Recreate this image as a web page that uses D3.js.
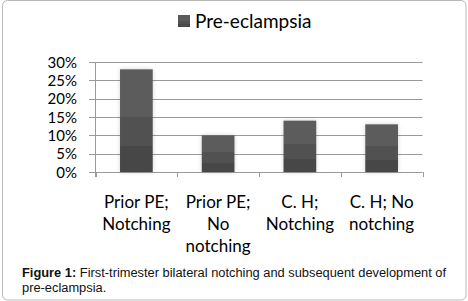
<!DOCTYPE html>
<html>
<head>
<meta charset="utf-8">
<script src="https://cdn.jsdelivr.net/npm/d3@7"></script>
<style>
  body { margin: 0; background: #fff; }
  svg { display: block; }
</style>
</head>
<body>
<div id="chart"></div>
<script>
const categories = ["Prior PE; Notching", "Prior PE; No notching", "C. H; Notching", "C. H; No notching"];
const categoryLines = [["Prior PE;", "Notching"], ["Prior PE;", "No", "notching"], ["C. H;", "Notching"], ["C. H; No", "notching"]];
const values = [0.28, 0.10, 0.14, 0.13];
const yTicks = [0, 0.05, 0.10, 0.15, 0.20, 0.25, 0.30];
const seriesName = "Pre-eclampsia";
const captionBold = "Figure 1:";
const captionLines = [" First-trimester bilateral notching and subsequent development of", "pre-eclampsia."];

const width = 468, height = 301;
const font = "Lato, 'Open Sans', sans-serif";

const svg = d3.select("#chart")
    .append("svg")
    .attr("width", width)
    .attr("height", height);

const defs = svg.append("defs");

// stepped gradient like the Excel bars
const grad = defs.append("linearGradient")
    .attr("id", "barGrad")
    .attr("x1", 0).attr("y1", 0).attr("x2", 0).attr("y2", 1);
[[0, "#5b5b5b"], [0.46, "#5b5b5b"], [0.46, "#515151"], [0.75, "#515151"], [0.75, "#474747"], [1, "#474747"]]
    .forEach(s => grad.append("stop").attr("offset", s[0]).attr("stop-color", s[1]));

const shadow = defs.append("filter")
    .attr("id", "shadow")
    .attr("x", "-30%").attr("y", "-10%").attr("width", "160%").attr("height", "120%");
shadow.append("feDropShadow")
    .attr("dx", 0).attr("dy", 0)
    .attr("stdDeviation", 2)
    .attr("flood-color", "#000")
    .attr("flood-opacity", 0.18);

// outer frame
svg.append("rect")
    .attr("x", 2.5).attr("y", 0.5)
    .attr("width", 463.5).attr("height", 299.5)
    .attr("rx", 5)
    .attr("fill", "none")
    .attr("stroke", "#b8b8b8");

const x = d3.scaleBand()
    .domain(categories)
    .range([95.5, 422.5])
    .paddingInner(0.6)
    .paddingOuter(0.3);

const y = d3.scaleLinear()
    .domain([0, 0.30])
    .range([172, 62]);

// gridlines
svg.append("g")
    .selectAll("line")
    .data(yTicks)
    .enter()
    .append("line")
    .attr("x1", 89)
    .attr("x2", 422.5)
    .attr("y1", d => Math.round(y(d)) + 0.5)
    .attr("y2", d => Math.round(y(d)) + 0.5)
    .attr("stroke", "#9a9a9a")
    .attr("stroke-width", 1);

// y axis line
svg.append("line")
    .attr("x1", 95.5).attr("x2", 95.5)
    .attr("y1", y(0.30)).attr("y2", 177)
    .attr("stroke", "#9a9a9a");

// category ticks
svg.append("g")
    .selectAll("line")
    .data(d3.range(categories.length + 1))
    .enter()
    .append("line")
    .attr("x1", i => Math.round(x.range()[0] + i * x.step()) + 0.5)
    .attr("x2", i => Math.round(x.range()[0] + i * x.step()) + 0.5)
    .attr("y1", y(0))
    .attr("y2", 177)
    .attr("stroke", "#9a9a9a");

// y labels
svg.append("g")
    .selectAll("text")
    .data(yTicks)
    .enter()
    .append("text")
    .attr("x", 77)
    .attr("y", d => y(d) + 5.5)
    .attr("text-anchor", "end")
    .style("font-family", font)
    .style("font-size", "15px")
    .style("fill", "#000")
    .text(d => d3.format(".0%")(d));

// bars
svg.append("g")
    .selectAll("rect")
    .data(values)
    .enter()
    .append("rect")
    .attr("x", (d, i) => x(categories[i]))
    .attr("y", d => y(d))
    .attr("width", x.bandwidth())
    .attr("height", d => y(0) - y(d))
    .attr("fill", "url(#barGrad)")
    .attr("filter", "url(#shadow)");

// x labels
const xl = svg.append("g")
    .selectAll("text")
    .data(categoryLines)
    .enter()
    .append("text")
    .attr("text-anchor", "middle")
    .style("font-family", font)
    .style("font-size", "17px")
    .style("fill", "#000");
xl.selectAll("tspan")
    .data((d, i) => d.map(t => ({ t: t, cx: x(categories[i]) + x.bandwidth() / 2 })))
    .enter()
    .append("tspan")
    .attr("x", d => d.cx)
    .attr("y", (d, j) => 208 + j * 22)
    .text(d => d.t);

// legend
svg.append("rect")
    .attr("x", 178).attr("y", 15)
    .attr("width", 12).attr("height", 12)
    .attr("fill", "url(#barGrad)");
svg.append("text")
    .attr("x", 195)
    .attr("y", 28)
    .style("font-family", font)
    .style("font-size", "19px")
    .style("fill", "#000")
    .text(seriesName);

// caption
const cap = svg.append("text")
    .attr("x", 22)
    .attr("y", 277)
    .style("font-family", "'Liberation Sans', Arial, sans-serif")
    .style("font-size", "12.85px")
    .style("fill", "#111");
cap.append("tspan").style("font-weight", "bold").text(captionBold);
cap.append("tspan").text(captionLines[0]);
svg.append("text")
    .attr("x", 22)
    .attr("y", 292)
    .style("font-family", "'Liberation Sans', Arial, sans-serif")
    .style("font-size", "12.85px")
    .style("fill", "#111")
    .text(captionLines[1]);
</script>
</body>
</html>
